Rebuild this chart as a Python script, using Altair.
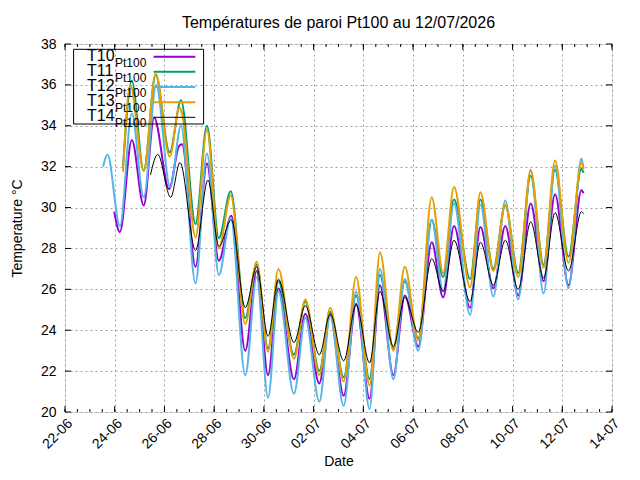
import altair as alt
import pandas as pd

YEAR = 2026
FONT = "Liberation Sans"

# ---- data (MM-DD HH:MM, value in degC) ----
t10_times = ["06-23 23:30", "06-24 05:00", "06-24 16:30", "06-25 04:00", "06-25 14:00",
             "06-26 04:30", "06-26 14:00", "06-26 17:00", "06-27 06:00", "06-27 17:00",
             "06-28 04:30", "06-28 16:30", "06-29 06:00", "06-29 17:00", "06-30 04:00",
             "06-30 14:00", "07-01 05:00", "07-01 16:00", "07-02 05:30", "07-02 16:00",
             "07-03 05:00", "07-03 17:00", "07-04 06:00", "07-04 16:00", "07-05 05:00",
             "07-05 16:00", "07-06 05:00", "07-06 18:00", "07-07 05:00", "07-07 15:30",
             "07-08 07:00", "07-08 17:00", "07-09 05:30", "07-09 17:00", "07-10 05:30",
             "07-10 17:30", "07-11 06:00", "07-11 17:00", "07-12 06:00", "07-12 18:30",
             "07-12 20:30"]
t10_vals = [29.8, 28.8, 33.3, 30.1, 34.4,
            30.9, 33.0, 33.1, 27.1, 32.15,
            27.4, 29.6, 23.0, 26.9, 21.8,
            26.05, 21.6, 24.8, 21.4, 24.75,
            20.8, 25.3, 20.65, 26.2, 21.8,
            25.7, 23.2, 28.3, 25.6, 29.1,
            25.1, 29.05, 26.05, 29.1, 25.7,
            30.2, 26.4, 30.65, 26.2, 30.85,
            30.7]

t11_times = ["06-24 08:00", "06-24 16:30", "06-25 04:00", "06-25 15:30", "06-26 05:00",
             "06-26 16:00", "06-27 06:00", "06-27 17:00", "06-28 04:30", "06-28 16:00",
             "06-29 06:00", "06-29 17:00", "06-30 04:00", "06-30 14:00", "07-01 05:00",
             "07-01 16:00", "07-02 05:30", "07-02 16:00", "07-03 05:00", "07-03 17:00",
             "07-04 06:00", "07-04 16:00", "07-05 05:00", "07-05 16:00", "07-06 05:00",
             "07-06 18:00", "07-07 05:00", "07-07 15:30", "07-08 07:00", "07-08 17:00",
             "07-09 05:30", "07-09 17:00", "07-10 05:30", "07-10 17:30", "07-11 06:00",
             "07-11 17:00", "07-12 06:00", "07-12 18:30", "07-12 20:30"]
t11_vals = [32.0, 36.2, 31.8, 36.5, 32.7,
            35.25, 29.2, 34.0, 28.5, 30.8,
            24.6, 27.2, 23.1, 26.4, 22.8,
            25.4, 22.0, 24.9, 21.7, 25.7,
            21.6, 26.7, 23.1, 26.4, 23.6,
            29.4, 26.6, 30.4, 26.5, 30.4,
            27.0, 30.1, 26.8, 31.55, 27.2,
            31.85, 27.6, 31.9, 31.7]

t12_times = ["06-23 12:45", "06-23 17:00", "06-24 05:00", "06-24 16:30", "06-25 04:00",
             "06-25 16:00", "06-26 05:30", "06-26 16:00", "06-27 06:00", "06-27 17:00",
             "06-28 04:30", "06-28 16:00", "06-29 06:00", "06-29 17:00", "06-30 04:00",
             "06-30 14:00", "07-01 05:00", "07-01 16:00", "07-02 05:30", "07-02 16:00",
             "07-03 05:00", "07-03 17:00", "07-04 06:00", "07-04 16:00", "07-05 05:00",
             "07-05 16:00", "07-06 05:00", "07-06 18:00", "07-07 05:00", "07-07 15:30",
             "07-08 07:00", "07-08 17:00", "07-09 05:30", "07-09 17:00", "07-10 05:30",
             "07-10 17:30", "07-11 06:00", "07-11 17:00", "07-12 06:00", "07-12 18:30",
             "07-12 20:30"]
t12_vals = [32.0, 32.6, 29.1, 34.6, 30.5,
            36.0, 31.0, 34.0, 26.3, 32.65,
            26.7, 29.5, 21.8, 26.6, 20.7,
            25.9, 20.9, 24.6, 20.5, 24.7,
            20.3, 25.9, 20.15, 27.0, 21.6,
            26.5, 23.0, 29.4, 25.9, 30.2,
            24.75, 30.15, 25.65, 30.35, 25.5,
            31.85, 25.8, 32.05, 26.05, 32.4,
            31.9]

t13_times = ["06-24 08:00", "06-24 15:00", "06-25 04:00", "06-25 15:30", "06-26 05:00",
             "06-26 14:30", "06-26 17:00", "06-27 06:00", "06-27 17:00", "06-28 04:30",
             "06-28 16:00", "06-29 06:00", "06-29 17:00", "06-30 04:00", "06-30 14:00",
             "07-01 05:00", "07-01 16:00", "07-02 05:30", "07-02 16:00", "07-03 05:00",
             "07-03 17:00", "07-04 06:00", "07-04 16:00", "07-05 05:00", "07-05 16:00",
             "07-06 05:00", "07-06 18:00", "07-07 05:00", "07-07 15:30", "07-08 07:00",
             "07-08 17:00", "07-09 05:30", "07-09 17:00", "07-10 05:30", "07-10 17:30",
             "07-11 06:00", "07-11 17:00", "07-12 06:00", "07-12 18:30", "07-12 20:30"]
t13_vals = [31.75, 36.0, 31.8, 36.55, 32.5,
            34.9, 34.6, 28.55, 33.8, 28.0,
            30.6, 24.3, 27.35, 22.95, 27.0,
            22.6, 25.5, 21.8, 25.1, 21.5,
            26.6, 21.3, 27.8, 23.0, 27.1,
            23.5, 30.5, 26.8, 31.0, 26.1,
            30.75, 26.9, 30.15, 26.6, 31.8,
            27.05, 32.3, 27.3, 32.2, 31.9]

t14_times = ["06-25 10:30", "06-25 17:30", "06-26 06:00", "06-26 15:00", "06-27 06:00",
             "06-27 18:00", "06-28 04:30", "06-28 16:30", "06-29 06:00", "06-29 17:00",
             "06-30 04:00", "06-30 14:00", "07-01 05:00", "07-01 16:00", "07-02 05:30",
             "07-02 16:00", "07-03 05:00", "07-03 17:00", "07-04 06:00", "07-04 16:00",
             "07-05 05:00", "07-05 16:00", "07-06 05:00", "07-06 18:00", "07-07 05:00",
             "07-07 15:30", "07-08 07:00", "07-08 17:00", "07-09 05:30", "07-09 17:00",
             "07-10 05:30", "07-10 17:30", "07-11 06:00", "07-11 17:00", "07-12 06:00",
             "07-12 18:30", "07-12 20:30"]
t14_vals = [31.6, 32.6, 30.5, 32.2, 27.9,
            31.35, 28.1, 29.4, 25.1, 27.1,
            23.7, 26.5, 23.4, 25.2, 22.8,
            24.8, 22.5, 25.25, 22.4, 25.9,
            23.2, 25.6, 23.9, 27.5, 25.9,
            28.4, 25.4, 28.3, 26.2, 28.4,
            26.0, 29.3, 26.55, 29.75, 26.9,
            29.8, 29.7]

series_names = ["T10", "T11", "T12", "T13", "T14"]
series_colors = ["#9400d3", "#009e73", "#56b4e9", "#e69f00", "#000000"]
series_widths = [2, 2, 2, 2, 1]
series_times = [t10_times, t11_times, t12_times, t13_times, t14_times]
series_vals = [t10_vals, t11_vals, t12_vals, t13_vals, t14_vals]

y_ticks = [20, 22, 24, 26, 28, 30, 32, 34, 36, 38]
x_start, x_end = "2026-06-22T00:00:00", "2026-07-14T00:00:00"

title_text = "Températures de paroi Pt100 au 12/07/2026"
x_title = "Date"
y_title = "Temperature °C"
sub_label = "Pt100"

W, H = 547, 368


def iso(t):
    return f"{YEAR}-{t[:5]}T{t[6:]}:00"


x_major = [d.strftime("%Y-%m-%dT%H:%M:%S") for d in pd.date_range(x_start, x_end, freq="2D")]
x_minor = [d.strftime("%Y-%m-%dT%H:%M:%S") for d in pd.date_range(x_start, x_end, freq="12h")]
x_axis_values = [alt.DateTime(year=d.year, month=d.month, date=d.day)
                 for d in pd.date_range(x_start, x_end, freq="2D")]

xscale = alt.Scale(domain=[alt.DateTime(year=2026, month=6, date=22),
                           alt.DateTime(year=2026, month=7, date=14)])
yscale = alt.Scale(domain=[20, 38], nice=False, zero=False)

grid_kw = dict(grid=True, gridDash=[2, 3], gridColor="#a0a0a0", gridWidth=1,
               ticks=False, domain=False, labelFont=FONT, labelFontSize=14,
               labelColor="black", titleFont=FONT, titleFontSize=14,
               titleFontWeight="normal", titleColor="black")

x_axis = alt.Axis(values=x_axis_values, format="%d-%m", labelAngle=-45,
                  labelAlign="right", labelBaseline="top", labelPadding=4,
                  labelFlush=False, labelOverlap=False, title=x_title,
                  titleY=53, titleBaseline="alphabetic", **grid_kw)
y_axis = alt.Axis(values=y_ticks, labelPadding=9, title=y_title,
                  titleX=-44, titleY=H / 2, titleAngle=-90,
                  titleBaseline="alphabetic", labelFlush=False, **grid_kw)


def X():
    return alt.X("t:T", scale=xscale, axis=x_axis, title=x_title)


def Y():
    return alt.Y("v:Q", scale=yscale, axis=y_axis, title=y_title)


layers = []
for name, col, sw, ts, vs in zip(series_names, series_colors, series_widths,
                                 series_times, series_vals):
    df = pd.DataFrame({"t": [iso(t) for t in ts], "v": vs, "s": name})
    layers.append(alt.Chart(df).mark_line(color=col, strokeWidth=sw, interpolate="monotone")
                  .encode(x=X(), y=Y()))

# inward ticks, mirrored on all four sides
df_maj = pd.DataFrame({"t": x_major})
df_min = pd.DataFrame({"t": x_minor})
df_y = pd.DataFrame({"v": y_ticks})
tick_style = dict(color="black", strokeWidth=1)
layers += [
    alt.Chart(df_min).mark_rule(**tick_style).encode(x=X(), y=alt.value(H), y2=alt.value(H - 3)),
    alt.Chart(df_min).mark_rule(**tick_style).encode(x=X(), y=alt.value(0), y2=alt.value(3)),
    alt.Chart(df_maj).mark_rule(**tick_style).encode(x=X(), y=alt.value(H), y2=alt.value(H - 6)),
    alt.Chart(df_maj).mark_rule(**tick_style).encode(x=X(), y=alt.value(0), y2=alt.value(6)),
    alt.Chart(df_y).mark_rule(**tick_style).encode(y=Y(), x=alt.value(0), x2=alt.value(6)),
    alt.Chart(df_y).mark_rule(**tick_style).encode(y=Y(), x=alt.value(W), x2=alt.value(W - 6)),
]

one = pd.DataFrame({"k": [0]})

# chart title (text mark, placed above the plot area)
layers.append(alt.Chart(one).mark_text(text=title_text, font=FONT, fontSize=16, align="center",
                                       baseline="alphabetic", color="black")
              .encode(x=alt.value(W / 2), y=alt.value(-16.3)))

# legend box with subscripted labels
layers.append(alt.Chart(one).mark_rect(fill=None, stroke="black", strokeWidth=1)
              .encode(x=alt.value(8.6), x2=alt.value(138.6), y=alt.value(5.3), y2=alt.value(80)))
for i, (name, col, sw) in enumerate(zip(series_names, series_colors, series_widths)):
    dy = 15.15 * i
    layers.append(alt.Chart(one).mark_rule(color=col, strokeWidth=sw)
                  .encode(x=alt.value(88.6), x2=alt.value(130.3), y=alt.value(12.7 + dy)))
    layers.append(alt.Chart(one).mark_text(text=name, font=FONT, fontSize=16, align="left",
                                           baseline="alphabetic", color="black")
                  .encode(x=alt.value(22), y=alt.value(16.7 + dy)))
    layers.append(alt.Chart(one).mark_text(text=sub_label, font=FONT, fontSize=12, align="left",
                                           baseline="alphabetic", color="black")
                  .encode(x=alt.value(50), y=alt.value(22.7 + dy)))

chart = alt.layer(*layers).properties(
    width=W, height=H,
    padding={"left": 57, "top": 36, "right": 20, "bottom": 58},
    autosize=alt.AutoSizeParams(type="none"),
).configure_view(stroke="black", strokeWidth=1).configure(background="white")

chart.save("out.html", embed_options={"renderer": "svg", "actions": False})
